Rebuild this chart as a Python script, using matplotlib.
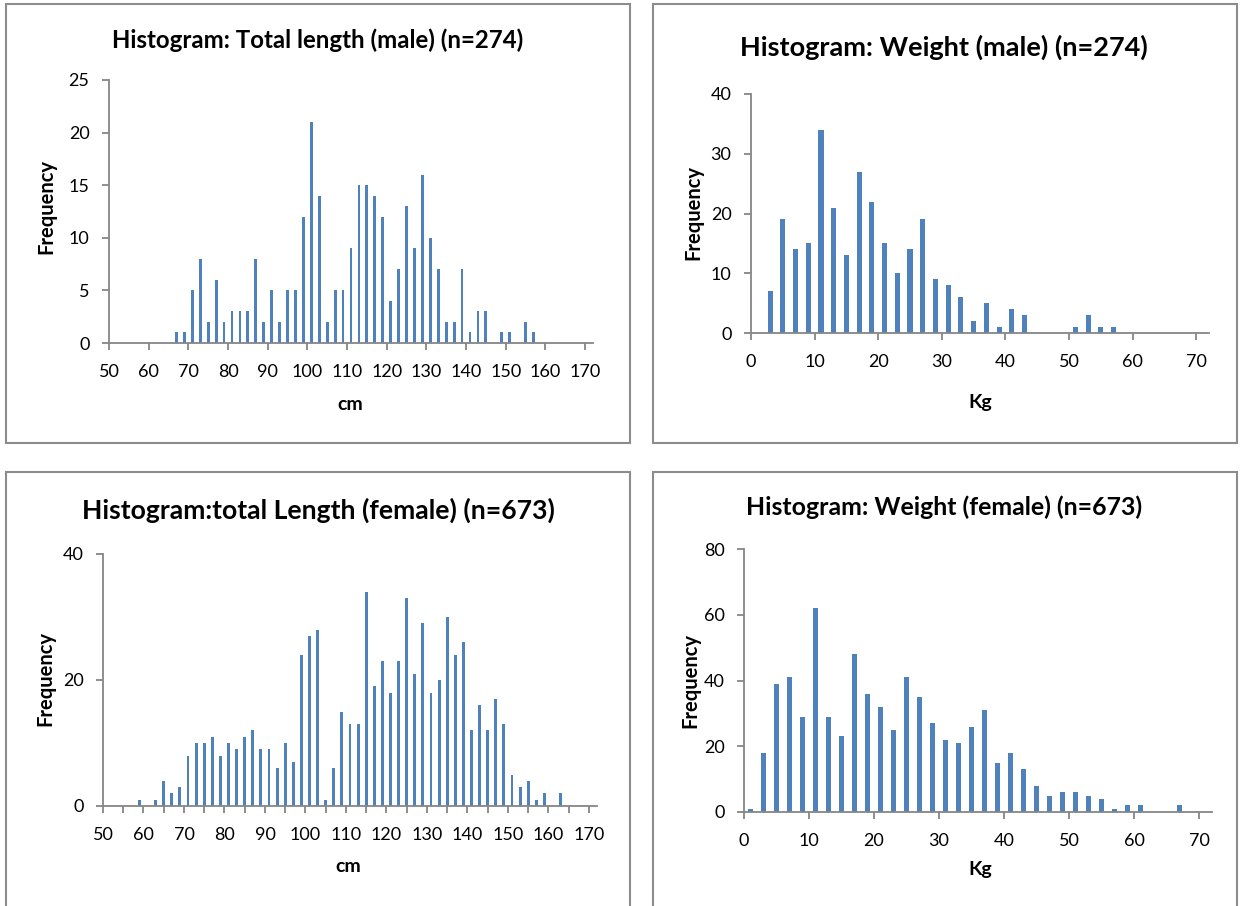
import matplotlib
matplotlib.use("Agg")
import matplotlib.pyplot as plt
from matplotlib.patches import Rectangle
from matplotlib.ticker import MultipleLocator

plt.rcParams["font.family"] = ["Lato", "DejaVu Sans"]

# bin mid-points and counts
male_len_bins = [67, 69, 71, 73, 75, 77, 79, 81, 83, 85, 87, 89, 91, 93, 95, 97, 99, 101,
                 103, 105, 107, 109, 111, 113, 115, 117, 119, 121, 123, 125, 127, 129, 131,
                 133, 135, 137, 139, 141, 143, 145, 147, 149, 151, 153, 155, 157]
male_len_counts = [1, 1, 5, 8, 2, 6, 2, 3, 3, 3, 8, 2, 5, 2, 5, 5, 12, 21,
                   14, 2, 5, 5, 9, 15, 15, 14, 12, 4, 7, 13, 9, 16, 10,
                   7, 2, 2, 7, 1, 3, 3, 0, 1, 1, 0, 2, 1]

male_wt_bins = [3, 5, 7, 9, 11, 13, 15, 17, 19, 21, 23, 25, 27, 29, 31, 33, 35, 37,
                39, 41, 43, 45, 47, 49, 51, 53, 55, 57]
male_wt_counts = [7, 19, 14, 15, 34, 21, 13, 27, 22, 15, 10, 14, 19, 9, 8, 6, 2, 5,
                  1, 4, 3, 0, 0, 0, 1, 3, 1, 1]

fem_len_bins = [59, 61, 63, 65, 67, 69, 71, 73, 75, 77, 79, 81, 83, 85, 87, 89, 91, 93,
                95, 97, 99, 101, 103, 105, 107, 109, 111, 113, 115, 117, 119, 121, 123,
                125, 127, 129, 131, 133, 135, 137, 139, 141, 143, 145, 147, 149, 151,
                153, 155, 157, 159, 161, 163]
fem_len_counts = [1, 0, 1, 4, 2, 3, 8, 10, 10, 11, 8, 10, 9, 11, 12, 9, 9, 6,
                  10, 7, 24, 27, 28, 1, 6, 15, 13, 13, 34, 19, 23, 18, 23,
                  33, 21, 29, 18, 20, 30, 24, 26, 12, 16, 12, 17, 13, 5,
                  3, 4, 1, 2, 0, 2]

fem_wt_bins = [1, 3, 5, 7, 9, 11, 13, 15, 17, 19, 21, 23, 25, 27, 29, 31, 33, 35, 37,
               39, 41, 43, 45, 47, 49, 51, 53, 55, 57, 59, 61, 63, 65, 67]
fem_wt_counts = [1, 18, 39, 41, 29, 62, 29, 23, 48, 36, 32, 25, 41, 35, 27, 22, 21, 26, 31,
                 15, 18, 13, 8, 5, 6, 6, 5, 4, 1, 2, 2, 0, 0, 2]

W, H = 1243, 906
BLUE = "#4F81BD"
AXC = "#868686"

fig = plt.figure(figsize=(W / 100, H / 100), dpi=100)


def add_ax(l, t, r, b):
    return fig.add_axes([l / W, 1 - b / H, (r - l) / W, (b - t) / H])


def style(ax, xlim, ylim, ystep, minor=None):
    ax.set_xlim(*xlim)
    ax.set_ylim(*ylim)
    ax.xaxis.set_major_locator(MultipleLocator(10))
    ax.yaxis.set_major_locator(MultipleLocator(ystep))
    if minor:
        ax.xaxis.set_minor_locator(MultipleLocator(minor))
    for s in ["top", "right"]:
        ax.spines[s].set_visible(False)
    for s in ["left", "bottom"]:
        ax.spines[s].set_color(AXC)
        ax.spines[s].set_linewidth(1.3)
    ax.tick_params(which="both", colors=AXC, labelcolor="black", length=5,
                   width=1.3, labelsize=13)
    ax.tick_params(axis="x", pad=10)
    ax.tick_params(axis="y", pad=9)


panels = [
    # bins, counts, bar width, axes box (px), xlim, ylim, ystep, minor, title, xlabel
    (male_len_bins, male_len_counts, 0.7, (109, 80, 593, 343), (50, 172), (0, 25), 5, None,
     "Histogram: Total length (male) (n=274)", 17.3, (318, 40), "cm", (350, 405), (46, 207)),
    (male_wt_bins, male_wt_counts, 0.8, (751, 94, 1209, 333), (0, 72), (0, 40), 10, None,
     "Histogram: Weight (male) (n=274)", 19.5, (944, 47), "Kg", (980, 402), (693, 213)),
    (fem_len_bins, fem_len_counts, 0.72, (103, 554, 597, 806), (50, 172), (0, 40), 20, 5,
     "Histogram:total Length (female) (n=673)", 19.1, (318, 510), "cm", (348, 867), (45, 678)),
    (fem_wt_bins, fem_wt_counts, 0.82, (744, 549, 1212, 812), (0, 72), (0, 80), 20, None,
     "Histogram: Weight (female) (n=673)", 17.9, (944, 507), "Kg", (980, 870), (690, 680)),
]

for bins, counts, bw, box, xlim, ylim, ystep, minor, title, tsize, tpos, xl, xlpos, ylpos in panels:
    ax = add_ax(*box)
    ax.bar(bins, counts, width=bw, color=BLUE, edgecolor="none")
    style(ax, xlim, ylim, ystep, minor)
    fig.text(tpos[0] / W, 1 - tpos[1] / H, title, ha="center", va="center",
             fontsize=tsize, fontweight="bold")
    fig.text(xlpos[0] / W, 1 - xlpos[1] / H, xl, ha="center", va="center",
             fontsize=14, fontweight="bold")
    fig.text(ylpos[0] / W, 1 - ylpos[1] / H, "Frequency", ha="center", va="center",
             rotation=90, fontsize=14.5, fontweight="bold")

# chart borders
for l, t, r, b in [(6, 4, 630, 443), (653, 4, 1237, 443), (6, 472, 630, 920), (653, 472, 1237, 920)]:
    fig.patches.append(Rectangle((l / W, 1 - b / H), (r - l) / W, (b - t) / H,
                                 transform=fig.transFigure, fill=False,
                                 edgecolor="#8C8C8C", linewidth=1.5))

fig.savefig("out.png", dpi=100)
